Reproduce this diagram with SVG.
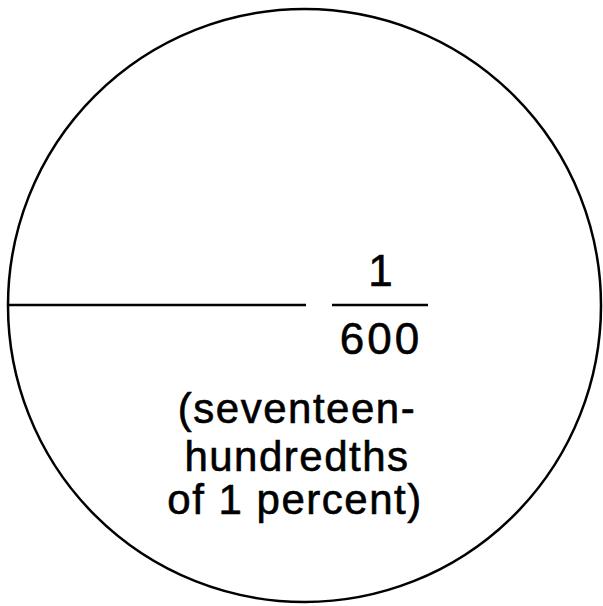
<svg xmlns="http://www.w3.org/2000/svg" width="603" height="606" viewBox="0 0 603 606">
<style>
.ln{fill:none;stroke:#000;stroke-width:2.5}
.t{font-family:"Liberation Sans",Arial,sans-serif;font-size:42px;fill:#000;stroke:#000;stroke-width:0.6;text-anchor:middle}
.w{letter-spacing:1.5px}
.n{font-size:44px;letter-spacing:3px}
</style>
<rect width="603" height="606" fill="#fff"/>
<g id="circle"><circle class="ln" cx="304.5" cy="305.5" r="296.5"/></g>
<g id="connectors"><line class="ln" x1="9" y1="305" x2="306" y2="305"/></g>
<g id="fraction">
<text class="t n" x="382" y="286">1</text>
<line class="ln" x1="332" y1="305" x2="428" y2="305"/>
<text class="t n" x="381" y="354">600</text>
</g>
<g id="label">
<text class="t w" x="297" y="423">(seventeen-</text>
<text class="t w" x="297" y="471">hundredths</text>
<text class="t w" x="295" y="514">of 1 percent)</text>
</g>
</svg>
